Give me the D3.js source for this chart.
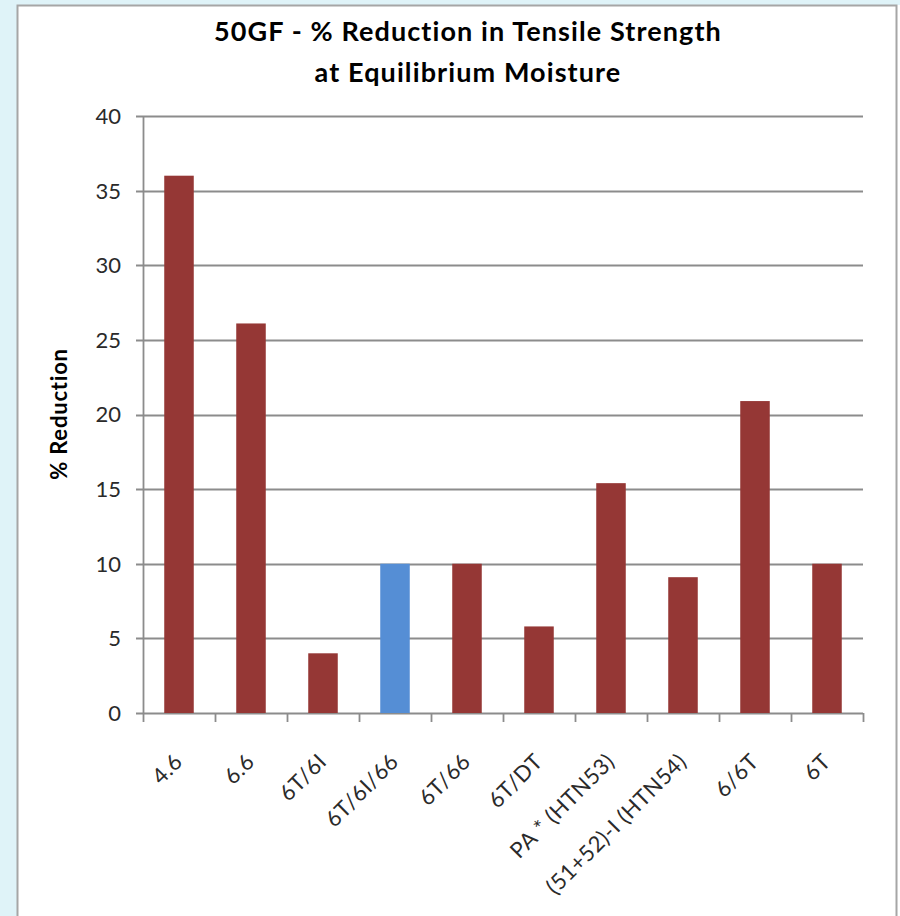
<!DOCTYPE html>
<html>
<head>
<meta charset="utf-8">
<script src="https://cdn.jsdelivr.net/npm/d3@7"></script>
<style>
  html, body { margin: 0; padding: 0; background: #ffffff; }
  svg { display: block; }
</style>
</head>
<body>
<svg id="chart" width="900" height="916"></svg>
<script>
// Grades tested and their % loss in tensile strength at equilibrium moisture
const categories = ["4.6", "6.6", "6T/6I", "6T/6I/66", "6T/66", "6T/DT",
  "PA * (HTN53)", "(51+52)-I (HTN54)", "6/6T", "6T"];
const reduction = [36, 26.1, 4, 10, 10, 5.8, 15.4, 9.1, 20.9, 10];
const highlighted = ["6T/6I/66"];
const yTicks = [0, 5, 10, 15, 20, 25, 30, 35, 40];
const titleLines = ["50GF - % Reduction in Tensile Strength", "at Equilibrium Moisture"];
const yAxisTitle = "% Reduction";

const svg = d3.select("#chart");
const W = 900, H = 916;
const plot = { left: 143, right: 863, top: 116, bottom: 713 };

// window frame: pale cyan edge strips and grey chart border
svg.append("rect").attr("x", 0).attr("y", 0).attr("width", W).attr("height", H).attr("fill", "#ffffff");
svg.append("rect").attr("x", 0).attr("y", 0).attr("width", 17).attr("height", H).attr("fill", "#dff3f8");
svg.append("rect").attr("x", 0).attr("y", 0).attr("width", W).attr("height", 5).attr("fill", "#dff3f8");
svg.append("path")
  .attr("d", `M17.5,${H} V5.5 H896.5 V${H}`)
  .attr("fill", "#ffffff")
  .attr("stroke", "#a6a6a6")
  .attr("stroke-width", 2);

const x = d3.scaleBand()
  .domain(categories)
  .range([plot.left, plot.right])
  .paddingInner(0.59)
  .paddingOuter(0.295);

const y = d3.scaleLinear()
  .domain([0, 40])
  .range([plot.bottom, plot.top]);

const font = "Lato, 'Open Sans', sans-serif";

// horizontal gridlines (also form the y tick marks)
svg.append("g")
  .selectAll("line")
  .data(yTicks)
  .join("line")
  .attr("x1", plot.left - 7)
  .attr("x2", plot.right)
  .attr("y1", d => Math.round(y(d)) + 0.5)
  .attr("y2", d => Math.round(y(d)) + 0.5)
  .attr("stroke", "#8c8c8c")
  .attr("stroke-width", 1.8);

// y axis line
svg.append("line")
  .attr("x1", plot.left + 0.5).attr("x2", plot.left + 0.5)
  .attr("y1", plot.top).attr("y2", plot.bottom)
  .attr("stroke", "#8c8c8c").attr("stroke-width", 1.8);

// y tick labels
svg.append("g")
  .selectAll("text")
  .data(yTicks)
  .join("text")
  .attr("x", 121)
  .attr("y", d => y(d))
  .attr("dy", "0.36em")
  .attr("text-anchor", "end")
  .attr("font-family", font)
  .attr("font-size", 22)
  .attr("fill", "#2a2a2a")
  .text(d => d);

// x tick marks at category boundaries
const boundaries = categories.map(c => x(c) - x.step() * x.paddingInner() / 2);
boundaries.push(plot.right);
svg.append("g")
  .selectAll("line")
  .data(boundaries)
  .join("line")
  .attr("x1", d => Math.round(d) + 0.5)
  .attr("x2", d => Math.round(d) + 0.5)
  .attr("y1", plot.bottom)
  .attr("y2", plot.bottom + 9)
  .attr("stroke", "#8c8c8c")
  .attr("stroke-width", 1.8);

// bars
svg.append("g")
  .selectAll("rect")
  .data(categories.map((c, i) => ({ c, v: reduction[i] })))
  .join("rect")
  .attr("x", d => x(d.c))
  .attr("width", x.bandwidth())
  .attr("y", d => y(d.v))
  .attr("height", d => y(0) - y(d.v))
  .attr("fill", d => highlighted.includes(d.c) ? "#558ed5" : "#953735");

// x category labels, rotated
svg.append("g")
  .selectAll("text")
  .data(categories)
  .join("text")
  .attr("transform", c => `translate(${x(c) + x.bandwidth() / 2 + 5},${plot.bottom + 50}) rotate(-45)`)
  .attr("text-anchor", "end")
  .attr("font-family", font)
  .attr("font-size", 22)
  .attr("letter-spacing", 0.5)
  .attr("fill", "#2a2a2a")
  .text(c => c);

// chart title
svg.append("g")
  .selectAll("text")
  .data(titleLines)
  .join("text")
  .attr("x", 468)
  .attr("y", (d, i) => 41 + i * 41)
  .attr("text-anchor", "middle")
  .attr("font-family", font)
  .attr("font-weight", "bold")
  .attr("font-size", 27)
  .attr("letter-spacing", 1.1)
  .attr("fill", "#000000")
  .text(d => d);

// y axis title
svg.append("text")
  .attr("transform", "translate(67,414) rotate(-90)")
  .attr("text-anchor", "middle")
  .attr("font-family", font)
  .attr("font-weight", "bold")
  .attr("font-size", 22)
  .attr("letter-spacing", 0.8)
  .attr("fill", "#000000")
  .text(yAxisTitle);
</script>
</body>
</html>
